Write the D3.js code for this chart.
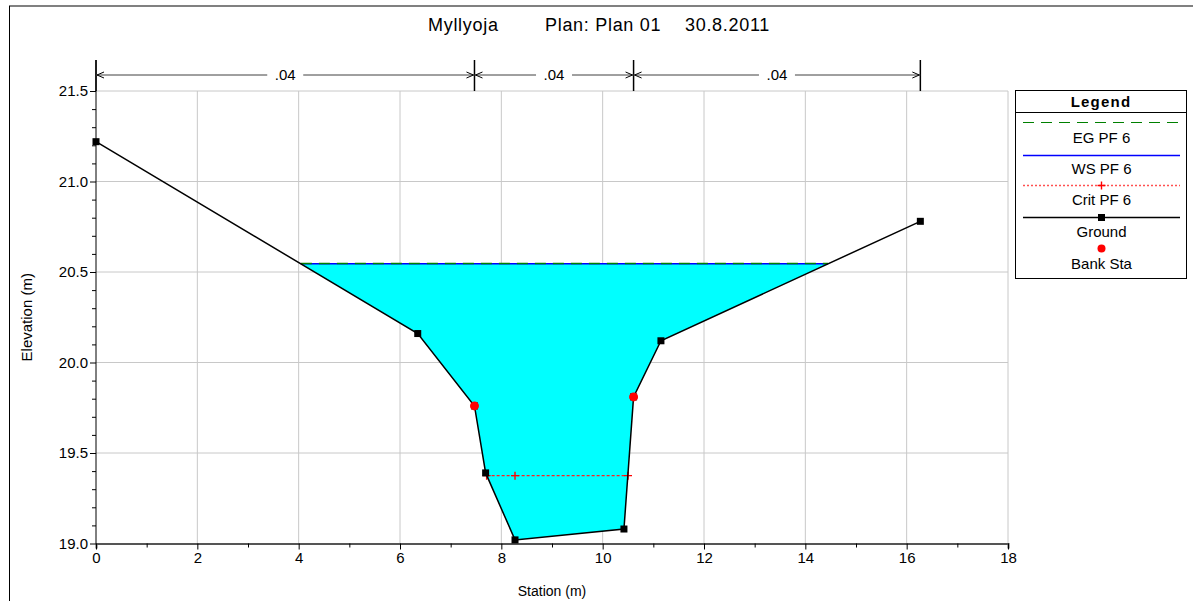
<!DOCTYPE html>
<html>
<head>
<meta charset="utf-8">
<script src="https://cdn.jsdelivr.net/npm/d3@7"></script>
<style>
  body { margin: 0; background: #fff; }
  text { font-family: "Liberation Sans", Arial, sans-serif; fill: #000; }
</style>
</head>
<body>
<div id="chart"></div>
<script>
// cross section data
const stations   = [0, 6.35, 7.47, 7.69, 8.27, 10.42, 10.61, 11.15, 16.27];
const elevations = [21.22, 20.16, 19.76, 19.39, 19.02, 19.08, 19.81, 20.12, 20.78];
const bankStations = [7.47, 10.61];
const wsElev = 20.545;
const egElev = 20.547;
const critElev = 19.375;
const critStations = [7.71, 8.27, 10.50];
const nValues = [".04", ".04", ".04"];
const nBreaks = [0, 7.47, 10.61, 16.27];
const xTicks = [0, 2, 4, 6, 8, 10, 12, 14, 16, 18];
const yTicks = [19.0, 19.5, 20.0, 20.5, 21.0, 21.5];
const titleParts = ["Myllyoja", "Plan: Plan 01", "30.8.2011"];
const legendNames = ["EG PF 6", "WS PF 6", "Crit PF 6", "Ground", "Bank Sta"];

const W = 1193, H = 601;
const pL = 96, pR = 1008, pT = 91, pB = 543.5;

const svg = d3.select("#chart").append("svg")
  .attr("width", W).attr("height", H);

// frame
svg.append("line").attr("x1", 9).attr("x2", W).attr("y1", 6).attr("y2", 6)
  .attr("stroke", "#808080").attr("stroke-width", 2);
svg.append("line").attr("x1", 9.5).attr("x2", 9.5).attr("y1", 6).attr("y2", H)
  .attr("stroke", "#000").attr("stroke-width", 1);

// title
const titleX = [428, 545, 685];
svg.selectAll(".title").data(titleParts).enter().append("text")
  .attr("class", "title")
  .attr("x", (d, i) => titleX[i]).attr("y", 31)
  .style("font-size", "18px").style("letter-spacing", "0.7px")
  .text(d => d);

const x = d3.scaleLinear().domain([0, 18]).range([pL, pR]);
const y = d3.scaleLinear().domain([19, 21.5]).range([pB, pT]);

// grid
svg.append("g").selectAll("line").data(xTicks.slice(1)).enter().append("line")
  .attr("x1", d => x(d)).attr("x2", d => x(d)).attr("y1", pT).attr("y2", pB)
  .attr("stroke", "#c8c8c8");
svg.append("g").selectAll("line").data(yTicks.slice(1)).enter().append("line")
  .attr("x1", pL).attr("x2", pR).attr("y1", d => y(d)).attr("y2", d => y(d))
  .attr("stroke", "#c8c8c8");

const isMajorY = d => Math.abs(d * 2 - Math.round(d * 2)) < 1e-6;

// x axis
const xAxis = svg.append("g")
  .attr("transform", "translate(0," + pB + ")")
  .call(d3.axisBottom(x).tickValues(d3.range(0, 18.01, 1)).tickSize(5)
    .tickFormat(d => xTicks.includes(d) ? d : ""));
xAxis.select(".domain").attr("stroke", "#555").attr("stroke-width", 2);
xAxis.selectAll(".tick line").attr("stroke", "#000").attr("y2", d => xTicks.includes(d) ? 6 : 4);
xAxis.selectAll("text").style("font-size", "15px").style("font-family", "Liberation Sans, Arial, sans-serif")
  .attr("y", 9);

svg.append("text").attr("x", (pL + pR) / 2).attr("y", 596)
  .attr("text-anchor", "middle").style("font-size", "14px").text("Station (m)");

// y axis
const yAxis = svg.append("g")
  .attr("transform", "translate(" + pL + ",0)")
  .call(d3.axisLeft(y).tickValues(d3.range(19, 21.51, 0.1)).tickSize(5)
    .tickFormat(d => isMajorY(d) ? d3.format(".1f")(d) : ""));
yAxis.select(".domain").remove();
yAxis.selectAll(".tick line").attr("stroke", "#000")
  .attr("x2", d => isMajorY(d) ? -6 : -4);
yAxis.selectAll("text").style("font-size", "15px").style("font-family", "Liberation Sans, Arial, sans-serif")
  .attr("x", -8);
svg.append("line").attr("x1", pL).attr("x2", pL).attr("y1", 60).attr("y2", pB)
  .attr("stroke", "#000");

svg.append("text")
  .attr("transform", "translate(32," + ((pT + pB) / 2) + ") rotate(-90)")
  .attr("text-anchor", "middle").style("font-size", "15px").text("Elevation (m)");

// ground points
const ground = stations.map((s, i) => ({ s: s, e: elevations[i] }));

// water polygon below ws
const water = [];
for (let i = 0; i < ground.length - 1; i++) {
  const a = ground[i], b = ground[i + 1];
  if (a.e <= wsElev) water.push(a);
  if ((a.e - wsElev) * (b.e - wsElev) < 0) {
    const t = (wsElev - a.e) / (b.e - a.e);
    water.push({ s: a.s + t * (b.s - a.s), e: wsElev });
  }
}
svg.append("path").datum(water)
  .attr("fill", "#00ffff")
  .attr("d", d3.line().x(d => x(d.s)).y(d => y(d.e)));

const wsLine = [water[0], water[water.length - 1]];
svg.append("path").datum(wsLine)
  .attr("fill", "none").attr("stroke", "#0000ff").attr("stroke-width", 1.5)
  .attr("d", d3.line().x(d => x(d.s)).y(d => y(d.e)));
svg.append("path").datum(wsLine.map(d => ({ s: d.s, e: egElev })))
  .attr("fill", "none").attr("stroke", "#008000").attr("stroke-width", 1.5)
  .attr("stroke-dasharray", "11,7")
  .attr("d", d3.line().x(d => x(d.s)).y(d => y(d.e)));

// crit
svg.append("line")
  .attr("x1", x(critStations[0])).attr("x2", x(critStations[critStations.length - 1]))
  .attr("y1", y(critElev)).attr("y2", y(critElev))
  .attr("stroke", "#ff2020").attr("stroke-width", 1.3).attr("stroke-dasharray", "3,2");
svg.selectAll(".crit").data(critStations).enter().append("path")
  .attr("class", "crit")
  .attr("transform", d => "translate(" + x(d) + "," + y(critElev) + ")")
  .attr("d", "M-4,0H4M0,-4V4").attr("stroke", "#ff0000").attr("stroke-width", 1.4);

// ground line
svg.append("path").datum(ground)
  .attr("fill", "none").attr("stroke", "#000").attr("stroke-width", 1.5)
  .attr("d", d3.line().x(d => x(d.s)).y(d => y(d.e)));
svg.selectAll(".gpt").data(ground).enter().append("rect")
  .attr("class", "gpt")
  .attr("x", d => x(d.s) - 3.5).attr("y", d => y(d.e) - 3.5)
  .attr("width", 7).attr("height", 7).attr("fill", "#000");

// bank stations
svg.selectAll(".bank").data(bankStations).enter().append("circle")
  .attr("class", "bank")
  .attr("cx", d => x(d)).attr("cy", d => y(elevations[stations.indexOf(d)]))
  .attr("r", 4.5).attr("fill", "#ff0000");

// manning's n annotation
const nY = 75;
const nG = svg.append("g");
nG.selectAll("line.tick").data(nBreaks).enter().append("line")
  .attr("class", "tick")
  .attr("x1", d => x(d)).attr("x2", d => x(d)).attr("y1", 60).attr("y2", pT)
  .attr("stroke", "#000").attr("stroke-width", 1.5);
nValues.forEach((v, i) => {
  const x0 = x(nBreaks[i]), x1 = x(nBreaks[i + 1]), xm = (x0 + x1) / 2;
  const gap = 18;
  nG.append("line").attr("x1", x0).attr("x2", xm - gap).attr("y1", nY).attr("y2", nY)
    .attr("stroke", "#404040");
  nG.append("line").attr("x1", xm + gap).attr("x2", x1).attr("y1", nY).attr("y2", nY)
    .attr("stroke", "#404040");
  nG.append("path").attr("d", "M" + (x0 + 8) + "," + (nY - 3) + "L" + (x0 + 1) + "," + nY + "L" + (x0 + 8) + "," + (nY + 3))
    .attr("fill", "none").attr("stroke", "#000");
  nG.append("path").attr("d", "M" + (x1 - 8) + "," + (nY - 3) + "L" + (x1 - 1) + "," + nY + "L" + (x1 - 8) + "," + (nY + 3))
    .attr("fill", "none").attr("stroke", "#000");
  nG.append("text").attr("x", xm).attr("y", nY + 5).attr("text-anchor", "middle")
    .style("font-size", "15px").text(v);
});

// legend
const lg = svg.append("g");
lg.append("rect").attr("x", 1015.5).attr("y", 90.5).attr("width", 171).attr("height", 188)
  .attr("fill", "#fff").attr("stroke", "#000");
lg.append("line").attr("x1", 1015.5).attr("x2", 1186.5).attr("y1", 112.5).attr("y2", 112.5)
  .attr("stroke", "#000");
lg.append("text").attr("x", 1101).attr("y", 107).attr("text-anchor", "middle")
  .style("font-size", "15px").style("font-weight", "bold").style("letter-spacing", "1.2px")
  .text("Legend");
const lx0 = 1023, lx1 = 1180, lxm = (lx0 + lx1) / 2;
const symY = [122.5, 155.5, 185.5, 217.5, 248.5];
const textY = [143, 174, 205, 237, 269];
lg.append("line").attr("x1", lx0).attr("x2", lx1).attr("y1", symY[0]).attr("y2", symY[0])
  .attr("stroke", "#008000").attr("stroke-width", 1).attr("stroke-dasharray", "11,7");
lg.append("line").attr("x1", lx0).attr("x2", lx1).attr("y1", symY[1]).attr("y2", symY[1])
  .attr("stroke", "#0000ff").attr("stroke-width", 1.5);
lg.append("line").attr("x1", lx0).attr("x2", lx1).attr("y1", symY[2]).attr("y2", symY[2])
  .attr("stroke", "#ff5050").attr("stroke-width", 1.3).attr("stroke-dasharray", "2,2");
lg.append("path").attr("d", "M" + (lxm - 4) + "," + symY[2] + "H" + (lxm + 4) + "M" + lxm + "," + (symY[2] - 4) + "V" + (symY[2] + 4))
  .attr("stroke", "#ff0000").attr("stroke-width", 1.4);
lg.append("line").attr("x1", lx0).attr("x2", lx1).attr("y1", symY[3]).attr("y2", symY[3])
  .attr("stroke", "#000").attr("stroke-width", 1.5);
lg.append("rect").attr("x", lxm - 3.5).attr("y", symY[3] - 3.5).attr("width", 7).attr("height", 7)
  .attr("fill", "#000");
lg.append("circle").attr("cx", lxm).attr("cy", symY[4]).attr("r", 4).attr("fill", "#ff0000");
lg.selectAll(".ltext").data(legendNames).enter().append("text")
  .attr("class", "ltext")
  .attr("x", lxm).attr("y", (d, i) => textY[i]).attr("text-anchor", "middle")
  .style("font-size", "15px").text(d => d);
</script>
</body>
</html>
